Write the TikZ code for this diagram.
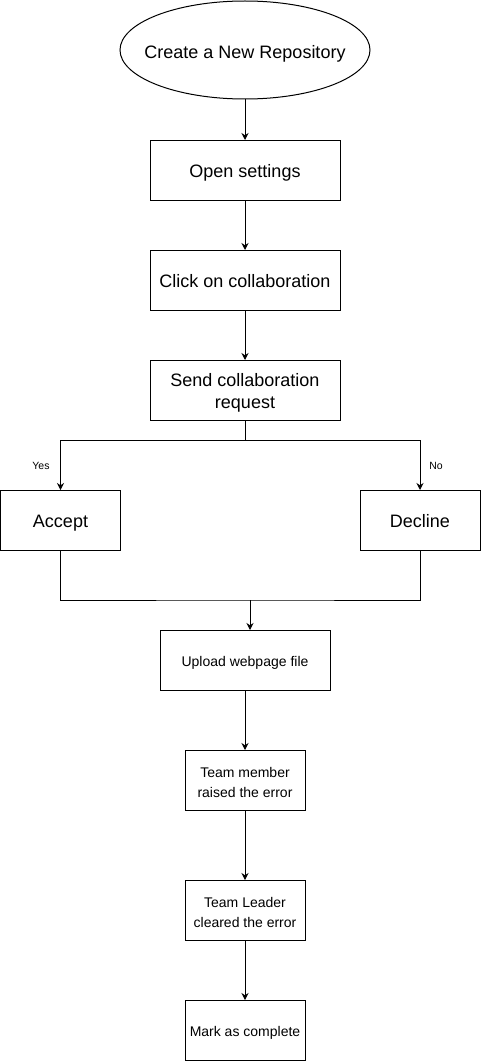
\documentclass[tikz,border=0pt]{standalone}
\usepackage{fontspec}
\setmainfont{Liberation Sans}
\usetikzlibrary{shapes.geometric,arrows.meta}
\begin{document}
\begin{tikzpicture}[x=1pt,y=-1pt,
  every node/.style={inner sep=0pt,outer sep=0pt},
  box/.style={draw,line width=1pt,rectangle},
  bigbox/.style={box,minimum width=190pt,minimum height=60pt},
  sidebox/.style={box,minimum width=120pt,minimum height=60pt},
  smallbox/.style={box,minimum width=120pt,minimum height=60pt},
  bigtxt/.style={align=center,yshift=-3pt,font=\fontsize{18}{22}\selectfont},
  bigone/.style={bigtxt,text height=13pt,text depth=4pt},
  smalltxt/.style={align=center,yshift=-2.5pt,font=\fontsize{14}{20}\selectfont},
  smallone/.style={smalltxt,text height=10pt,text depth=3pt},
  conn/.style={line width=1pt},
  arr/.style={conn,-{Stealth[length=7pt,width=7pt]}},
  lbl/.style={font=\fontsize{10.5}{12}\selectfont}]
\useasboundingbox (0,0) rectangle (482,1062);
\node[draw,line width=1pt,ellipse,minimum width=250pt,minimum height=98pt,
  label={[bigone,yshift=-1pt]center:Create a New Repository}] (start) at (245,50) {};
\node[bigbox,label={[bigone]center:Open settings}] (open) at (245,170) {};
\node[bigbox,label={[bigone]center:{Click on collaboration}}] (click) at (245,280) {};
\node[bigbox,label={[bigtxt]center:{Send collaboration\\request}}] (send) at (245,390) {};
\node[sidebox,label={[bigone]center:Accept}] (accept) at (60.5,520) {};
\node[sidebox,label={[bigone]center:Decline}] (decline) at (420,520) {};
\node[smallbox,minimum width=170pt,label={[smallone]center:{Upload webpage file}}] (upload) at (245,660) {};
\node[smallbox,label={[smalltxt]center:{Team member\\raised the error}}] (member) at (245,780) {};
\node[smallbox,label={[smalltxt]center:{Team Leader\\cleared the error}}] (leader) at (245,910) {};
\node[smallbox,label={[smallone]center:{Mark as complete}}] (mark) at (245,1030) {};
\coordinate (split) at (245,440);
\coordinate (join) at (250,600);
\draw[arr] (start) -- (open);
\draw[arr] (open) -- (click);
\draw[arr] (click) -- (send);
\draw[arr] (send.south) -- (split) -| (accept.north);
\draw[arr] (split) -| (decline.north);
\node[lbl] (yes) at (41,466) {Yes};
\node[lbl] (no) at (436,466) {No};
\draw[conn] (accept.south) |- (join) -| (decline.south);
\draw[arr] (join) -- (join |- upload.north);
\draw[arr] (upload) -- (member);
\draw[arr] (member) -- (leader);
\draw[arr] (leader) -- (mark);
\end{tikzpicture}
\end{document}
